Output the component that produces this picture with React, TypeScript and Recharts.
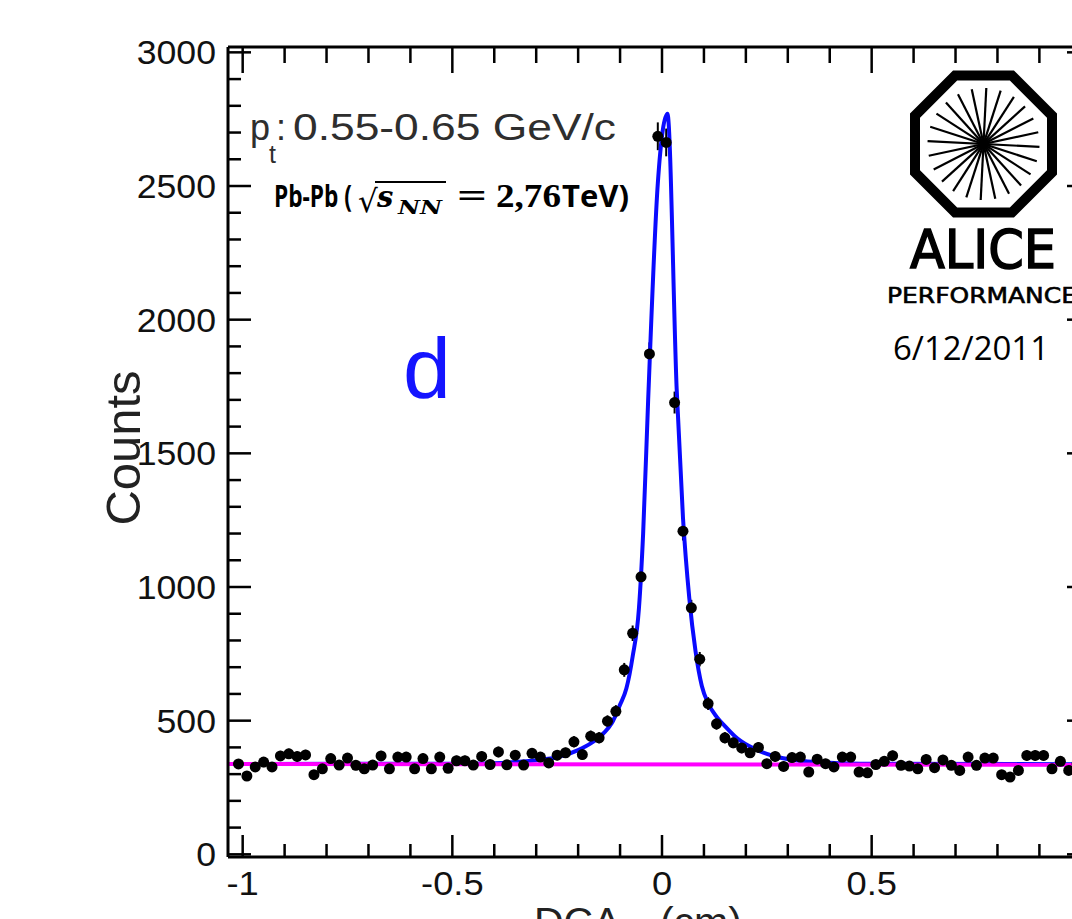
import React from "react";
import { ComposedChart, Line, XAxis, YAxis, ErrorBar } from "recharts";

// DCA_xy distribution of deuteron candidates, 0.02 cm bins (bin centres)
const binCenters = [
  -1.01, -0.99, -0.97, -0.95, -0.93, -0.91, -0.89, -0.87, -0.85, -0.83,
  -0.81, -0.79, -0.77, -0.75, -0.73, -0.71, -0.69, -0.67, -0.65, -0.63,
  -0.61, -0.59, -0.57, -0.55, -0.53, -0.51, -0.49, -0.47, -0.45, -0.43,
  -0.41, -0.39, -0.37, -0.35, -0.33, -0.31, -0.29, -0.27, -0.25, -0.23,
  -0.21, -0.19, -0.17, -0.15, -0.13, -0.11, -0.09, -0.07, -0.05, -0.03,
  -0.01, 0.01, 0.03, 0.05, 0.07, 0.09, 0.11, 0.13, 0.15, 0.17,
  0.19, 0.21, 0.23, 0.25, 0.27, 0.29, 0.31, 0.33, 0.35, 0.37,
  0.39, 0.41, 0.43, 0.45, 0.47, 0.49, 0.51, 0.53, 0.55, 0.57,
  0.59, 0.61, 0.63, 0.65, 0.67, 0.69, 0.71, 0.73, 0.75, 0.77,
  0.79, 0.81, 0.83, 0.85, 0.87, 0.89, 0.91, 0.93, 0.95, 0.97,
  0.99, 1.01, 1.03,
];

const counts = [
  338, 293, 327, 345, 327, 368, 376, 366, 372, 298,
  320, 358, 334, 360, 333, 320, 334, 368, 320, 364,
  364, 320, 358, 320, 364, 322, 350, 350, 334, 366,
  336, 383, 335, 371, 334, 378, 364, 342, 371, 380,
  421, 373, 442, 436, 498, 535, 690, 827, 1038, 1872,
  2686, 2663, 1690, 1209, 922, 730, 564, 488, 436, 417,
  398, 380, 400, 339, 366, 329, 362, 364, 308, 356,
  339, 327, 364, 364, 308, 305, 336, 348, 369, 333,
  330, 320, 355, 324, 353, 333, 314, 364, 333, 360,
  360, 298, 289, 314, 370, 370, 370, 320, 348, 314,
  340, 330, 345,
];

const countErrors = [
  18, 17, 18, 19, 18, 19, 19, 19, 19, 17,
  18, 19, 18, 19, 18, 18, 18, 19, 18, 19,
  19, 18, 19, 18, 19, 18, 19, 19, 18, 19,
  18, 20, 18, 19, 18, 19, 19, 18, 19, 19,
  21, 19, 21, 21, 22, 23, 26, 29, 32, 43,
  52, 52, 41, 35, 30, 27, 24, 22, 21, 20,
  20, 19, 20, 18, 19, 18, 19, 19, 18, 19,
  18, 18, 19, 19, 18, 17, 18, 19, 19, 18,
  18, 18, 19, 18, 19, 18, 18, 19, 18, 19,
  19, 17, 17, 18, 19, 19, 19, 18, 19, 18,
  18, 18, 19,
];

// Total fit (signal + background), sampled along DCA_xy
const fitDca = [
  -1.035, -0.5, -0.4, -0.35, -0.3, -0.25, -0.2, -0.17, -0.14, -0.12,
  -0.1, -0.085, -0.07, -0.055, -0.045, -0.033, -0.01, 0.013, 0.035, 0.05,
  0.065, 0.08, 0.095, 0.11, 0.13, 0.15, 0.18, 0.22, 0.27, 0.32,
  0.4, 0.5, 1.035,
];
const fitCounts = [
  338, 339, 341, 345, 352, 363, 390, 415, 452, 490,
  560, 620, 740, 920, 1200, 1700, 2510, 2770, 1740, 1260,
  960, 760, 630, 565, 515, 480, 433, 395, 366, 352,
  343, 339, 337,
];

// Flat background component
const bkgDca = [-1.035, 1.035];
const bkgCounts = [338, 335];

const xMajorTicks = [-1, -0.5, 0, 0.5, 1];
// the label at +1 falls beyond the visible frame edge
const xTickLabels = ["-1", "-0.5", "0", "0.5", ""];
const xMinorTicks = [
  -0.9, -0.8, -0.7, -0.6, -0.4, -0.3, -0.2, -0.1,
  0.1, 0.2, 0.3, 0.4, 0.6, 0.7, 0.8, 0.9,
];
const yMajorTicks = [0, 500, 1000, 1500, 2000, 2500, 3000];
const yTickLabels = ["0", "500", "1000", "1500", "2000", "2500", "3000"];
const yMinorTicks = [
  100, 200, 300, 400, 600, 700, 800, 900, 1100, 1200, 1300, 1400,
  1600, 1700, 1800, 1900, 2100, 2200, 2300, 2400, 2600, 2700, 2800, 2900,
];

const X_DOMAIN: [number, number] = [-1.035, 1.035];
const Y_DOMAIN: [number, number] = [-10, 3020];

const xTicks = [...xMajorTicks, ...xMinorTicks].sort((a, b) => a - b);
const yTicks = [...yMajorTicks, ...yMinorTicks].sort((a, b) => a - b);

const histPoints = binCenters.map((x, i) => ({ x, y: counts[i], err: countErrors[i] }));
const fitPoints = fitDca.map((x, i) => ({ x, y: fitCounts[i] }));
const bkgPoints = bkgDca.map((x, i) => ({ x, y: bkgCounts[i] }));

const LABEL_FONT = "'Liberation Sans', Arial, Helvetica, sans-serif";
const TICK_STROKE = 2.5;

const xMajorIndex = (v: number) => xMajorTicks.findIndex((m) => Math.abs(m - v) < 1e-9);
const yMajorIndex = (v: number) => yMajorTicks.findIndex((m) => Math.abs(m - v) < 1e-9);

function BottomTick(props: any) {
  const { x, y, payload } = props;
  const i = xMajorIndex(payload.value);
  const len = i >= 0 ? 22 : 13;
  return (
    <g>
      <line x1={x} x2={x} y1={y} y2={y - len} stroke="#000" strokeWidth={TICK_STROKE} />
      {i >= 0 && xTickLabels[i] !== "" && (
        <text
          transform={`translate(${x},${y + 38}) scale(1.1,1)`}
          textAnchor="middle"
          fontFamily={LABEL_FONT}
          fontSize={33}
          fill="#111"
        >
          {xTickLabels[i]}
        </text>
      )}
    </g>
  );
}

function TopTick(props: any) {
  const { x, y, payload } = props;
  const len = xMajorIndex(payload.value) >= 0 ? 26 : 16;
  return <line x1={x} x2={x} y1={y} y2={y + len} stroke="#000" strokeWidth={TICK_STROKE} />;
}

function LeftTick(props: any) {
  const { x, y, payload } = props;
  const i = yMajorIndex(payload.value);
  const len = i >= 0 ? 23 : 13;
  return (
    <g>
      <line x1={x} x2={x + len} y1={y} y2={y} stroke="#000" strokeWidth={TICK_STROKE} />
      {i >= 0 && (
        <text
          transform={`translate(${x - 12},${y + 12}) scale(1.08,1)`}
          textAnchor="end"
          fontFamily={LABEL_FONT}
          fontSize={33}
          fill="#111"
        >
          {yTickLabels[i]}
        </text>
      )}
    </g>
  );
}

function RightTick(props: any) {
  const { x, y, payload } = props;
  const len = yMajorIndex(payload.value) >= 0 ? 29 : 15;
  return <line x1={x} x2={x - len} y1={y} y2={y} stroke="#000" strokeWidth={TICK_STROKE} />;
}

function HistDot(props: any) {
  const { cx, cy, index } = props;
  if (cx == null || cy == null) return <g key={index} />;
  return <circle key={index} cx={cx} cy={cy} r={5.5} fill="#000" />;
}

// ALICE Performance badge: octagon with radial spokes
function AliceLogo() {
  const cx = 983.5;
  const cy = 144;
  const R = 68.5 / Math.cos(Math.PI / 8);
  const octagon = Array.from({ length: 8 }, (_, k) => {
    const a = Math.PI / 8 + (k * Math.PI) / 4;
    return `${(cx + R * Math.cos(a)).toFixed(2)},${(cy + R * Math.sin(a)).toFixed(2)}`;
  }).join(" ");
  const spokes = Array.from({ length: 12 }, (_, k) => (k * Math.PI) / 12 + 0.05);
  return (
    <g>
      <polygon points={octagon} fill="#fff" stroke="#000" strokeWidth={10} strokeLinejoin="miter" />
      {spokes.map((a, k) => (
        <line
          key={k}
          x1={cx - 56 * Math.cos(a)}
          y1={cy - 56 * Math.sin(a)}
          x2={cx + 56 * Math.cos(a)}
          y2={cy + 56 * Math.sin(a)}
          stroke="#000"
          strokeWidth={2.2}
        />
      ))}
      <text
        x={910}
        y={268}
        fontFamily="'DejaVu Sans', sans-serif"
        fontSize={54}
        stroke="#000"
        strokeWidth={1.6}
        textLength={146}
        lengthAdjust="spacingAndGlyphs"
        fill="#000"
      >
        ALICE
      </text>
      <text
        x={887}
        y={303}
        fontFamily="'DejaVu Sans', sans-serif"
        fontSize={21}
        stroke="#000"
        strokeWidth={0.6}
        textLength={190}
        lengthAdjust="spacingAndGlyphs"
        fill="#000"
      >
        PERFORMANCE
      </text>
      <text
        x={893}
        y={360}
        fontFamily="'Open Sans', 'Noto Sans', sans-serif"
        fontSize={32}
        textLength={156}
        lengthAdjust="spacingAndGlyphs"
        fill="#000"
      >
        6/12/2011
      </text>
    </g>
  );
}

function Annotations() {
  return (
    <svg
      width={1072}
      height={919}
      style={{ position: "absolute", left: 0, top: 0, pointerEvents: "none" }}
    >
      {/* transverse momentum bin */}
      <g fontFamily={LABEL_FONT} fill="#2e2e2e" fontSize={36}>
        <text x={250} y={140}>p</text>
        <text x={269} y={163} fontSize={25}>t</text>
        <text x={276} y={140}>:</text>
        <text x={293} y={140} textLength={323} lengthAdjust="spacingAndGlyphs">
          0.55-0.65 GeV/c
        </text>
      </g>

      {/* collision system */}
      <g fill="#000">
        <text
          x={274}
          y={207}
          fontFamily="'Open Sans', 'Noto Sans', sans-serif"
          fontWeight="bold"
          fontSize={30}
          textLength={78}
          lengthAdjust="spacingAndGlyphs"
        >
          Pb-Pb (
        </text>
        <text x={358} y={212} fontFamily="'DejaVu Sans', sans-serif" fontSize={31}>
          √
        </text>
        <line x1={375} x2={446} y1={182} y2={182} stroke="#000" strokeWidth={2} />
        <text
          x={377}
          y={207}
          fontFamily="'DejaVu Serif', serif"
          fontWeight="bold"
          fontStyle="italic"
          fontSize={29}
        >
          s
        </text>
        <text
          x={398}
          y={214}
          fontFamily="'DejaVu Serif', serif"
          fontWeight="bold"
          fontStyle="italic"
          fontSize={19}
          textLength={44}
          lengthAdjust="spacingAndGlyphs"
        >
          NN
        </text>
        <text
          x={457}
          y={207}
          fontFamily="'Liberation Serif', serif"
          fontWeight="bold"
          fontSize={33}
          textLength={30}
          lengthAdjust="spacingAndGlyphs"
        >
          =
        </text>
        <text
          x={496}
          y={207}
          fontFamily="'Liberation Serif', serif"
          fontWeight="bold"
          fontSize={33}
          textLength={65}
          lengthAdjust="spacingAndGlyphs"
        >
          2,76
        </text>
        <text
          x={562}
          y={207}
          fontFamily="'Open Sans', 'Noto Sans', sans-serif"
          fontWeight="bold"
          fontSize={30}
          textLength={67}
          lengthAdjust="spacingAndGlyphs"
        >
          TeV)
        </text>
      </g>

      {/* particle species */}
      <text x={403} y={398} fontFamily={LABEL_FONT} fontSize={86} fill="#1414ff">
        d
      </text>

      {/* axis titles */}
      <text
        transform="translate(140,448) rotate(-90)"
        textAnchor="middle"
        fontFamily={LABEL_FONT}
        fontSize={48}
        textLength={155}
        lengthAdjust="spacingAndGlyphs"
        fill="#222"
      >
        Counts
      </text>
      <text x={534} y={936} fontFamily={LABEL_FONT} fontSize={41} fill="#222">
        DCA
        <tspan fontSize={28} dy={10}>xy</tspan>
        <tspan fontSize={41} dy={-10}> (cm)</tspan>
      </text>

      <AliceLogo />
    </svg>
  );
}

export default function App() {
  return (
    <div
      style={{
        position: "fixed",
        left: 0,
        top: 0,
        width: 1072,
        height: 919,
        overflow: "hidden",
        background: "#fff",
      }}
    >
      <ComposedChart
        width={1120}
        height={980}
        margin={{ top: 46, right: 23, bottom: 83, left: 148 }}
      >
        <XAxis
          xAxisId="bottom"
          orientation="bottom"
          type="number"
          dataKey="x"
          domain={X_DOMAIN}
          allowDataOverflow
          ticks={xTicks}
          interval={0}
          tickSize={0}
          tickMargin={0}
          tickLine={false}
          tick={(p: any) => <BottomTick {...p} />}
          axisLine={{ stroke: "#000", strokeWidth: 3 }}
          height={40}
        />
        <XAxis
          xAxisId="top"
          orientation="top"
          type="number"
          dataKey="x"
          domain={X_DOMAIN}
          allowDataOverflow
          ticks={xTicks}
          interval={0}
          tickSize={0}
          tickMargin={0}
          tickLine={false}
          tick={(p: any) => <TopTick {...p} />}
          axisLine={{ stroke: "#000", strokeWidth: 3 }}
          height={1}
        />
        <YAxis
          yAxisId="left"
          orientation="left"
          type="number"
          domain={Y_DOMAIN}
          allowDataOverflow
          ticks={yTicks}
          interval={0}
          tickSize={0}
          tickMargin={0}
          tickLine={false}
          tick={(p: any) => <LeftTick {...p} />}
          axisLine={{ stroke: "#000", strokeWidth: 3 }}
          width={80}
        />
        <YAxis
          yAxisId="right"
          orientation="right"
          type="number"
          domain={Y_DOMAIN}
          allowDataOverflow
          ticks={yTicks}
          interval={0}
          tickSize={0}
          tickMargin={0}
          tickLine={false}
          tick={(p: any) => <RightTick {...p} />}
          axisLine={{ stroke: "#000", strokeWidth: 3 }}
          width={1}
        />
        {/* histogram markers with statistical error bars (markers only, no connecting line) */}
        <Line
          xAxisId="bottom"
          yAxisId="left"
          data={histPoints}
          dataKey="y"
          type="linear"
          stroke="none"
          strokeWidth={0}
          dot={(p: any) => <HistDot {...p} />}
          activeDot={false}
          isAnimationActive={false}
        >
          <ErrorBar
            dataKey="err"
            direction="y"
            width={0}
            stroke="#000"
            strokeWidth={2}
            isAnimationActive={false}
          />
        </Line>
        <Line
          xAxisId="bottom"
          yAxisId="left"
          data={fitPoints}
          dataKey="y"
          type="monotone"
          stroke="#0a0aff"
          strokeWidth={4}
          dot={false}
          activeDot={false}
          isAnimationActive={false}
        />
        <Line
          xAxisId="bottom"
          yAxisId="left"
          data={bkgPoints}
          dataKey="y"
          type="linear"
          stroke="#ff00ff"
          strokeWidth={4}
          dot={false}
          activeDot={false}
          isAnimationActive={false}
        />
      </ComposedChart>
      <Annotations />
    </div>
  );
}
